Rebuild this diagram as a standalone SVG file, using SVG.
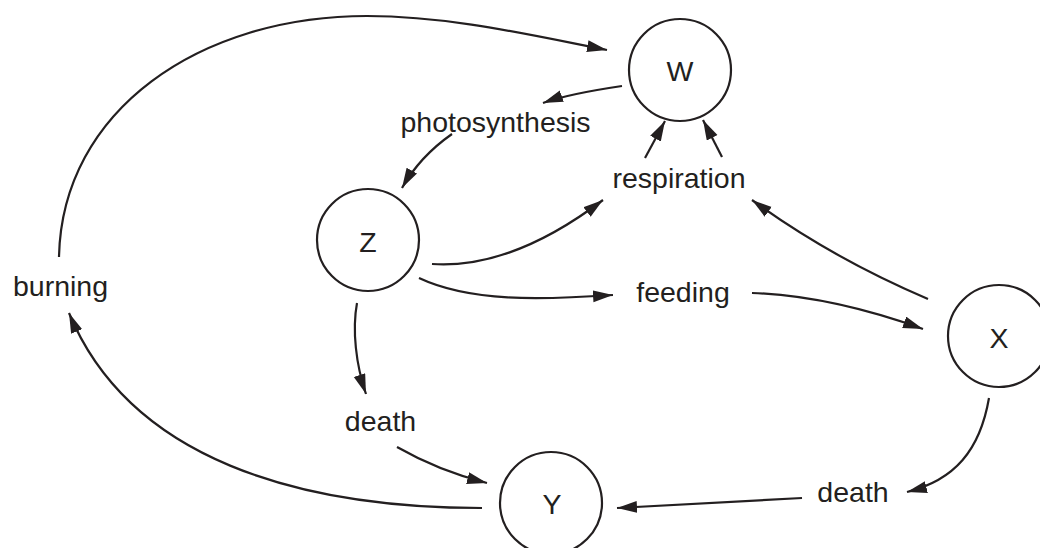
<svg xmlns="http://www.w3.org/2000/svg" width="1040" height="548" viewBox="0 0 1040 548">
<style>
.node circle{fill:#fff;stroke:#231f20;stroke-width:2.2}
text{font-family:"Liberation Sans",Arial,sans-serif;font-size:28.5px;fill:#231f20;text-anchor:middle}
.edges path{fill:none;stroke:#231f20;stroke-width:2.2;marker-end:url(#ah)}
</style>
<defs>
<marker id="ah" markerUnits="userSpaceOnUse" markerWidth="22" markerHeight="14" refX="20" refY="6" orient="auto">
<path d="M0,0 L20,6 L0,12 z" fill="#231f20"/>
</marker>
</defs>
<rect width="1040" height="548" fill="#fff"/>
<g class="edges" id="connectors">
<path d="M59,257 C62,110 200,16 367,16 C450,16 530,35 607,50"/>
<path d="M622,86 C595,90 565,95 543,103"/>
<path d="M452,134 C432,148 415,165 402,188"/>
<path d="M432,264 C490,268 550,240 603,200"/>
<path d="M645,158 L665,121"/>
<path d="M722,157 L703,120"/>
<path d="M928,299 C860,270 800,235 752,200"/>
<path d="M419,278 C470,302 540,300 613,295"/>
<path d="M752,293 C810,295 870,310 923,329"/>
<path d="M357,303 C352,330 356,365 366,394"/>
<path d="M397,447 C425,463 455,475 487,483"/>
<path d="M482,508 C300,508 130,460 69,313"/>
<path d="M989,398 C980,450 955,480 907,492"/>
<path d="M802,498 L617,508"/>
</g>
<g id="W" class="node"><circle cx="680" cy="70" r="51"/><text x="680" y="81">W</text></g>
<g id="Z" class="node"><circle cx="368" cy="240" r="51"/><text x="368" y="252">Z</text></g>
<g id="X" class="node"><circle cx="999" cy="336" r="51"/><text x="999" y="348">X</text></g>
<g id="Y" class="node"><circle cx="551" cy="503" r="51"/><text x="552" y="514">Y</text></g>
<g id="photosynthesis"><text x="495.5" y="132">photosynthesis</text></g>
<g id="respiration"><text x="679" y="188">respiration</text></g>
<g id="burning"><text x="60.5" y="296">burning</text></g>
<g id="feeding"><text x="683" y="302">feeding</text></g>
<g id="death1"><text x="380.5" y="431">death</text></g>
<g id="death2"><text x="853" y="502">death</text></g>
</svg>
